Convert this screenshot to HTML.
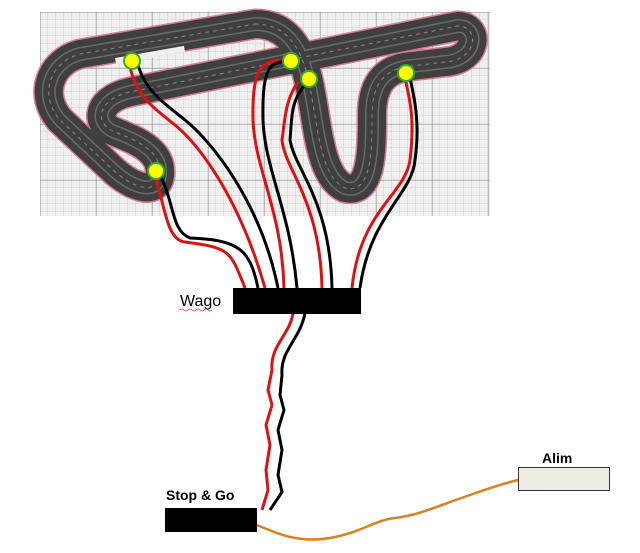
<!DOCTYPE html>
<html><head><style>
body{margin:0;background:#fff;width:640px;height:553px;overflow:hidden}
svg{position:absolute;left:0;top:0}
</style></head><body>
<svg width="640" height="553" viewBox="0 0 640 553" xmlns="http://www.w3.org/2000/svg">
<defs>
<pattern id="g" width="8" height="8" patternUnits="userSpaceOnUse">
<rect width="8" height="8" fill="#efefef"/>
<path d="M8 0V8M0 8H8" stroke="#c8c8c8" stroke-width="0.8"/>
</pattern>
<pattern id="G" width="56" height="56" patternUnits="userSpaceOnUse" x="40" y="12">
<rect width="56" height="56" fill="url(#g)"/>
<path d="M0 0V56M0 0H56" stroke="#888" stroke-width="1"/>
</pattern>
<path id="tr" d="M255 24 C285 24 300 45 308 78 C318 120 318 175 345 188 C372 195 372 150 372 115 C372 80 388 68 412 66 L445 62 C478 60 480 26 458 26 L130 92 C95 100 95 125 115 132 C135 140 162 150 160 175 C157 197 130 187 110 167 L60 120 C38 95 50 62 80 54 Z"/>
</defs>
<rect x="40" y="12" width="450" height="204" fill="url(#G)"/>
<g fill="none" stroke-linecap="round" stroke-linejoin="round">
<use href="#tr" stroke="#d87a90" stroke-width="31"/>
<use href="#tr" stroke="#3f3f3f" stroke-width="28"/>
<use href="#tr" stroke="#6a6a6a" stroke-width="14"/>
<use href="#tr" stroke="#3f3f3f" stroke-width="11"/>
<use href="#tr" stroke="#888" stroke-width="1" stroke-dasharray="3 5"/>
</g>
<g fill="#eee"><rect x="115" y="58" width="70" height="6" transform="rotate(-10 115 58)"/></g>
<g fill="none" stroke-width="3" stroke-linejoin="round">
<path d="M129 62 C135 95 150 105 175 125 C200 145 240 200 265 288" stroke="#d11"/>
<path d="M137 62 C145 90 160 100 185 120 C210 140 260 200 278 288" stroke="#000"/>
<path d="M153 172 C165 200 165 240 185 242 C230 248 230 250 245 288" stroke="#d11"/>
<path d="M158 172 C175 200 170 230 190 238 C240 240 250 250 258 288" stroke="#000"/>
<path d="M288 60 C262 60 252 65 253 120 C255 170 282 210 284 288" stroke="#d11"/>
<path d="M290 61 C270 62 262 65 263 120 C265 170 290 210 297 288" stroke="#000"/>
<path d="M298 82 C285 100 285 120 282 140 C285 170 320 200 322 288" stroke="#d11"/>
<path d="M306 84 C290 100 292 120 290 140 C295 170 330 200 332 288" stroke="#000"/>
<path d="M405 78 C410 100 415 120 410 160 C405 195 360 210 352 288" stroke="#d11"/>
<path d="M410 78 C415 100 420 125 415 160 C412 195 370 215 360 288" stroke="#000"/>
<path d="M293 313 C290 335 270 345 272 370 L268 390 L272 405 L266 425 L270 445 L266 470 L268 490 L262 510" stroke="#d11"/>
<path d="M305 313 C300 340 280 350 282 375 L280 395 L284 410 L278 430 L282 450 L278 475 L282 492 L270 510" stroke="#000"/>
<path d="M257 525 C280 535 300 543 330 538 C360 533 375 520 395 518 C420 515 440 505 470 495 C490 488 505 483 518 480" stroke="#d9801f" stroke-width="2.5"/>
</g>
<g fill="#ff0" stroke="#3a3" stroke-width="2">
<circle cx="132" cy="61" r="8"/><circle cx="291" cy="61" r="8"/>
<circle cx="309" cy="79" r="8"/><circle cx="406" cy="73" r="8"/>
<circle cx="156" cy="171" r="8"/>
</g>
<rect x="233" y="288" width="128" height="26" fill="#000"/>
<rect x="165" y="508" width="92" height="24" fill="#000"/>
<rect x="518.5" y="467.5" width="91" height="23" fill="#eeebe2" stroke="#333"/>
<text x="180" y="306" font-family="Liberation Sans, sans-serif" font-size="16">Wago</text>
<path d="M180 310 q2 -2 4 0 t4 0 t4 0 t4 0 t4 0 t4 0 t4 0 t4 0" stroke="#d33" fill="none" stroke-width="0.8"/>
<text x="166" y="500" font-family="Liberation Sans, sans-serif" font-size="14" font-weight="bold">Stop &amp; Go</text>
<text x="542" y="463" font-family="Liberation Sans, sans-serif" font-size="14" font-weight="bold">Alim</text>
</svg>
</body></html>
